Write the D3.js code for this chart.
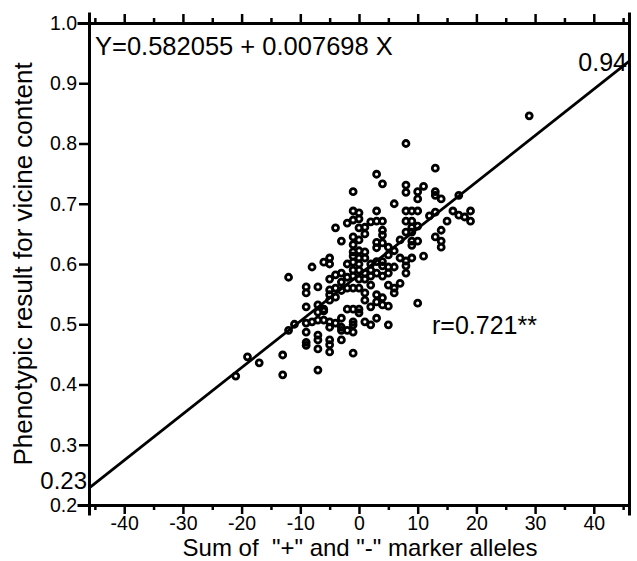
<!DOCTYPE html>
<html>
<head>
<meta charset="utf-8">
<script src="https://cdn.jsdelivr.net/npm/d3@7"></script>
<style>
  body { margin: 0; background: #fff; }
  svg { display: block; }
</style>
</head>
<body>
<div id="chart"></div>
<script>
// Data (x = sum of alleles, y = vicine)
const alleleSum = [
  -21, -19, -17, -13, -13, -12, -12, -11,
  -9, -9, -9, -9, -9, -9, -9,
  -8, -8,
  -7, -7, -7, -7, -7, -7, -7, -7,
  -6, -6, -6, -6,
  -5, -5, -5, -5, -5, -5, -5, -5, -5, -5, -5,
  -4, -4, -4, -4, -4,
  -3, -3, -3, -3, -3, -3, -3, -3,
  -2, -2, -2, -2, -2, -2,
  -1, -1, -1, -1, -1, -1, -1, -1, -1, -1, -1, -1, -1, -1, -1, -1,
  0, 0, 0, 0, 0, 0, 0, 0, 0, 0, 0, 0,
  1, 1, 1, 1, 1, 1, 1, 1, 1,
  2, 2, 2, 2, 2, 2, 2,
  3, 3, 3, 3, 3, 3, 3, 3, 3, 3,
  4, 4, 4, 4, 4, 4, 4, 4, 4, 4,
  5, 5, 5, 5, 5, 5, 5,
  6, 6, 6, 6, 6,
  7, 7, 7,
  8, 8, 8, 8, 8, 8, 8, 8, 8,
  9, 9, 9, 9, 9, 9, 9,
  10, 10, 10, 10, 10, 10,
  11, 11, 12,
  13, 13, 13, 13, 13,
  14, 14, 14, 14,
  15, 16, 17, 17, 18, 19, 19, 29
];
const vicine = [
  0.414, 0.446, 0.436, 0.449, 0.416, 0.578, 0.490, 0.500,
  0.562, 0.552, 0.529, 0.502, 0.487, 0.470, 0.465,
  0.595, 0.504,
  0.562, 0.532, 0.520, 0.507, 0.482, 0.474, 0.459, 0.424,
  0.603, 0.522, 0.507, 0.525,
  0.610, 0.600, 0.575, 0.557, 0.549, 0.540, 0.504, 0.495, 0.474, 0.466, 0.454,
  0.660, 0.582, 0.545, 0.502, 0.560,
  0.638, 0.585, 0.570, 0.556, 0.495, 0.490, 0.474, 0.510,
  0.668, 0.600, 0.578, 0.525, 0.490, 0.560,
  0.720, 0.688, 0.673, 0.645, 0.632, 0.620, 0.613, 0.603, 0.590, 0.580, 0.525, 0.504, 0.499, 0.487, 0.452, 0.560,
  0.685, 0.675, 0.660, 0.640, 0.622, 0.610, 0.600, 0.590, 0.575, 0.560, 0.525, 0.519,
  0.661, 0.650, 0.620, 0.610, 0.585, 0.575, 0.552, 0.540, 0.504,
  0.670, 0.600, 0.590, 0.580, 0.529, 0.499, 0.565,
  0.749, 0.688, 0.671, 0.636, 0.627, 0.604, 0.585, 0.549, 0.537, 0.510,
  0.733, 0.671, 0.656, 0.648, 0.635, 0.604, 0.597, 0.544, 0.532, 0.580,
  0.628, 0.615, 0.595, 0.585, 0.530, 0.499, 0.565,
  0.700, 0.595, 0.560, 0.552, 0.622,
  0.568, 0.610, 0.640,
  0.800, 0.731, 0.719, 0.688, 0.671, 0.653, 0.605, 0.597, 0.585,
  0.688, 0.671, 0.661, 0.653, 0.638, 0.631, 0.610,
  0.720, 0.708, 0.688, 0.663, 0.638, 0.535,
  0.729, 0.613, 0.680,
  0.759, 0.720, 0.714, 0.686, 0.645,
  0.708, 0.656, 0.638, 0.628,
  0.671, 0.688, 0.714, 0.681, 0.678, 0.688, 0.671, 0.846
];

// regression line Y = a + b X
const intercept = 0.582055;
const slope = 0.007698;

const xMajorTicks = [-40, -30, -20, -10, 0, 10, 20, 30, 40];
const xMinorTicks = [-45, -35, -25, -15, -5, 5, 15, 25, 35, 45];
const yTicks = [0.2, 0.3, 0.4, 0.5, 0.6, 0.7, 0.8, 0.9, 1.0];

const width = 637;
const height = 561;
const font = "'Liberation Sans', Arial, sans-serif";

const xScale = d3.scaleLinear().domain([-46, 46]).range([89, 629]);
const yScale = d3.scaleLinear().domain([0.2, 1.0]).range([505, 23]);

const svg = d3.select("#chart").append("svg")
  .attr("width", width)
  .attr("height", height)
  .attr("viewBox", `0 0 ${width} ${height}`);

// axes: major + minor ticks on bottom and top, plain box line on the right
const bottomMajor = d3.axisBottom(xScale).tickValues(xMajorTicks).tickSize(9).tickPadding(2.5).tickFormat(d => String(d));
const bottomMinor = d3.axisBottom(xScale).tickValues(xMinorTicks).tickSize(5).tickFormat("");
const topMajor = d3.axisTop(xScale).tickValues(xMajorTicks).tickSize(9).tickFormat("");
const topMinor = d3.axisTop(xScale).tickValues(xMinorTicks).tickSize(5).tickFormat("");
const leftAxis = d3.axisLeft(yScale).tickValues(yTicks).tickSize(10).tickPadding(2).tickFormat(d3.format(".1f"));
const rightAxis = d3.axisRight(yScale).tickValues([]).tickSize(0);

const axes = [
  [bottomMajor, `translate(0, ${yScale(0.2)})`],
  [bottomMinor, `translate(0, ${yScale(0.2)})`],
  [topMajor, `translate(0, ${yScale(1.0)})`],
  [topMinor, `translate(0, ${yScale(1.0)})`],
  [leftAxis, `translate(${xScale(-46)}, 0)`],
  [rightAxis, `translate(${xScale(46)}, 0)`]
];

for (let [ax, tr] of axes) {
  const g = svg.append("g").attr("transform", tr).call(ax);
  g.select(".domain").attr("stroke", "#000").attr("stroke-width", 3).attr("stroke-linecap", "square");
  g.selectAll(".tick line").attr("stroke", "#000").attr("stroke-width", 2.5);
  g.selectAll(".tick text")
    .style("font-family", font)
    .style("font-size", "19.5px")
    .attr("fill", "#000");
}

// regression line
const lineX = [-46, 46];
svg.append("line")
  .attr("x1", xScale(lineX[0]))
  .attr("y1", yScale(intercept + slope * lineX[0]))
  .attr("x2", xScale(lineX[1]))
  .attr("y2", yScale(intercept + slope * lineX[1]))
  .attr("stroke", "#000")
  .attr("stroke-width", 2.8);

// points
svg.append("g").selectAll("circle").data(alleleSum).join("circle")
  .attr("cx", d => xScale(d))
  .attr("cy", (d, i) => yScale(vicine[i]))
  .attr("r", 3)
  .attr("fill", "none")
  .attr("stroke", "#000")
  .attr("stroke-width", 2.8);

// annotations
svg.append("text")
  .text("Y=0.582055 + 0.007698 X")
  .attr("x", 95)
  .attr("y", 55)
  .style("font-family", font)
  .style("font-size", "25.5px");

svg.append("text")
  .text((intercept + slope * 46).toFixed(2))
  .attr("x", 627)
  .attr("y", 71)
  .attr("text-anchor", "end")
  .style("font-family", font)
  .style("font-size", "25px");

svg.append("text")
  .text((intercept + slope * -46).toFixed(2))
  .attr("x", 87)
  .attr("y", 489)
  .attr("text-anchor", "end")
  .style("font-family", font)
  .style("font-size", "24px");

svg.append("text")
  .text("r=0.721**")
  .attr("x", 432)
  .attr("y", 334)
  .style("font-family", font)
  .style("font-size", "25px");

// axis titles
svg.append("text")
  .text("Sum of  \"+\" and \"-\" marker alleles")
  .attr("x", 360)
  .attr("y", 556)
  .attr("text-anchor", "middle")
  .style("white-space", "pre")
  .style("font-family", font)
  .style("font-size", "24px");

svg.append("text")
  .text("Phenotypic result for vicine content")
  .attr("transform", "translate(32, 264) rotate(-90)")
  .attr("text-anchor", "middle")
  .style("font-family", font)
  .style("font-size", "26px");
</script>
</body>
</html>
